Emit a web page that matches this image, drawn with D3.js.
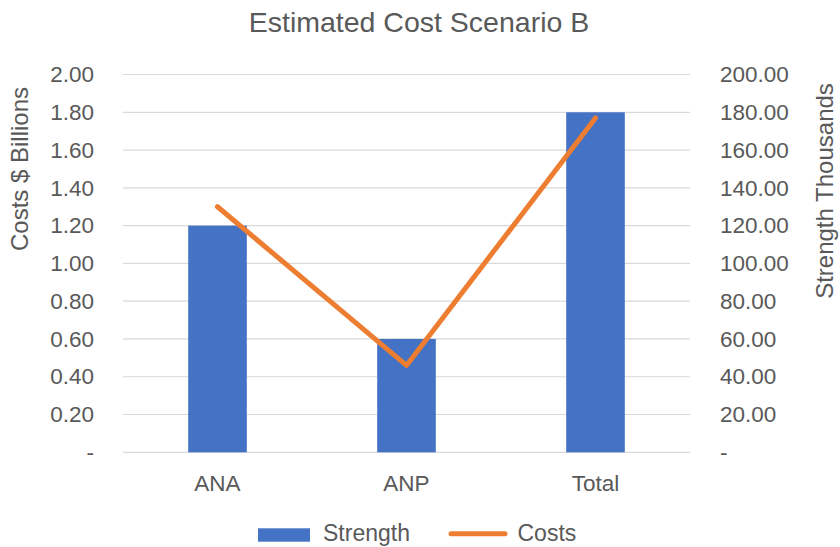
<!DOCTYPE html>
<html>
<head>
<meta charset="utf-8">
<script src="https://cdn.jsdelivr.net/npm/d3@7"></script>
<style>
  body { margin: 0; background: #fff; }
  text { font-family: "Liberation Sans", Arial, sans-serif; fill: #595959; }
</style>
</head>
<body>
<svg id="chart" width="840" height="547"></svg>
<script>
// data
const categories = ["ANA", "ANP", "Total"];
const strength = [120, 60, 180];      // thousands, right axis
const costs = [1.30, 0.46, 1.77];     // $ billions, left axis
const leftTicks = [0, 0.2, 0.4, 0.6, 0.8, 1.0, 1.2, 1.4, 1.6, 1.8, 2.0];
const rightTicks = [0, 20, 40, 60, 80, 100, 120, 140, 160, 180, 200];

const width = 840, height = 547;
const margin = { top: 74.5, right: 150, bottom: 94.7, left: 123 };

const svg = d3.select("#chart");

const x = d3.scaleBand()
  .domain(categories)
  .range([margin.left, width - margin.right])
  .padding(0);

const yL = d3.scaleLinear()
  .domain([0, 2])
  .range([height - margin.bottom, margin.top]);

const yR = d3.scaleLinear()
  .domain([0, 200])
  .range([height - margin.bottom, margin.top]);

const barW = x.bandwidth() * 0.31;

// gridlines
svg.append("g")
  .selectAll("line")
  .data(leftTicks)
  .join("line")
  .attr("x1", margin.left)
  .attr("x2", width - margin.right)
  .attr("y1", d => yL(d))
  .attr("y2", d => yL(d))
  .attr("stroke", "#d9d9d9")
  .attr("stroke-width", 1.2);

// left axis
const leftAxis = d3.axisLeft(yL)
  .tickValues(leftTicks)
  .tickSize(0)
  .tickPadding(29)
  .tickFormat(d => d === 0 ? "-" : d3.format(".2f")(d));

svg.append("g")
  .attr("transform", `translate(${margin.left},0)`)
  .call(leftAxis)
  .call(g => g.select(".domain").remove())
  .call(g => g.selectAll("text")
    .attr("font-size", 22.5)
    .attr("font-family", "Liberation Sans, Arial, sans-serif")
    .attr("fill", "#595959"));

// right axis
const rightAxis = d3.axisRight(yR)
  .tickValues(rightTicks)
  .tickSize(0)
  .tickPadding(30)
  .tickFormat(d => d === 0 ? "-" : d3.format(".2f")(d));

svg.append("g")
  .attr("transform", `translate(${width - margin.right},0)`)
  .call(rightAxis)
  .call(g => g.select(".domain").remove())
  .call(g => g.selectAll("text")
    .attr("font-size", 22.5)
    .attr("font-family", "Liberation Sans, Arial, sans-serif")
    .attr("fill", "#595959"));

// bars (Strength)
svg.append("g")
  .selectAll("rect")
  .data(categories)
  .join("rect")
  .attr("x", (d, i) => x(d) + x.bandwidth() / 2 - barW / 2)
  .attr("width", barW)
  .attr("y", (d, i) => yR(strength[i]))
  .attr("height", (d, i) => yR(0) - yR(strength[i]))
  .attr("fill", "#4472c4");

// line (Costs)
const line = d3.line()
  .x((d, i) => x(categories[i]) + x.bandwidth() / 2)
  .y(d => yL(d));

svg.append("path")
  .datum(costs)
  .attr("d", line)
  .attr("fill", "none")
  .attr("stroke", "#ed7d31")
  .attr("stroke-width", 5)
  .attr("stroke-linecap", "round")
  .attr("stroke-linejoin", "round");

// category labels
svg.append("g")
  .selectAll("text")
  .data(categories)
  .join("text")
  .attr("x", d => x(d) + x.bandwidth() / 2)
  .attr("y", 491)
  .attr("text-anchor", "middle")
  .attr("font-size", 22.5)
  .text(d => d);

// title
svg.append("text")
  .attr("x", 419)
  .attr("y", 32)
  .attr("text-anchor", "middle")
  .attr("font-size", 28.5)
  .text("Estimated Cost Scenario B");

// axis titles
svg.append("text")
  .attr("transform", `translate(28,169) rotate(-90)`)
  .attr("text-anchor", "middle")
  .attr("font-size", 24)
  .text("Costs $ Billions");

svg.append("text")
  .attr("transform", `translate(833,191) rotate(-90)`)
  .attr("text-anchor", "middle")
  .attr("font-size", 24)
  .text("Strength Thousands");

// legend
const legend = svg.append("g");
legend.append("rect")
  .attr("x", 258).attr("y", 528.3)
  .attr("width", 52).attr("height", 13.4)
  .attr("fill", "#4472c4");
legend.append("text")
  .attr("x", 323).attr("y", 541)
  .attr("font-size", 23)
  .text("Strength");
legend.append("line")
  .attr("x1", 451).attr("x2", 505)
  .attr("y1", 533.7).attr("y2", 533.7)
  .attr("stroke", "#ed7d31")
  .attr("stroke-width", 5)
  .attr("stroke-linecap", "round");
legend.append("text")
  .attr("x", 517.5).attr("y", 541)
  .attr("font-size", 23)
  .text("Costs");
</script>
</body>
</html>
